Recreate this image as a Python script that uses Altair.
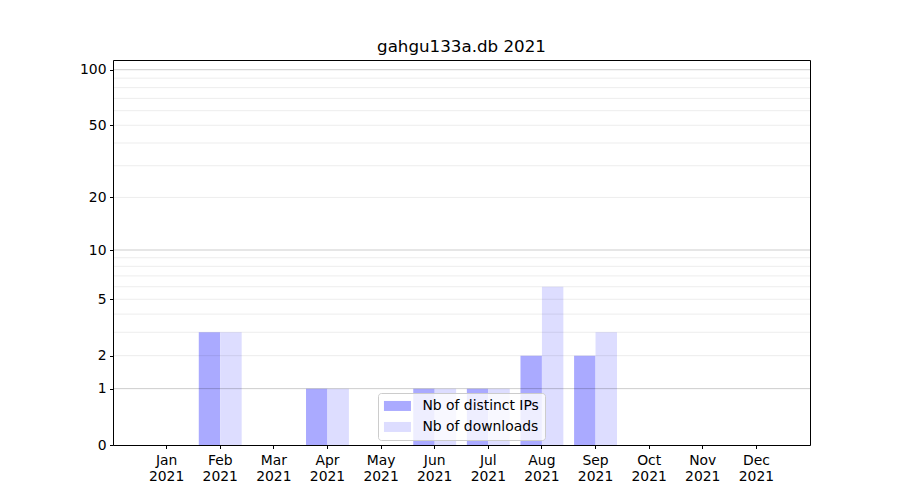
import altair as alt
import pandas as pd

months = ["Jan", "Feb", "Mar", "Apr", "May", "Jun", "Jul", "Aug", "Sep", "Oct", "Nov", "Dec"]
ips = [0, 3, 0, 1, 0, 1, 1, 2, 2, 0, 0, 0]
downloads = [0, 3, 0, 1, 0, 1, 1, 6, 3, 0, 0, 0]
series = ["Nb of distinct IPs", "Nb of downloads"]
y_ticks = [0, 1, 2, 5, 10, 20, 50, 100]
major_grid = [1, 10, 100]
minor_grid = [2, 3, 4, 5, 6, 7, 8, 9, 20, 30, 40, 50, 60, 70, 80, 90]

rows = []
for m, a, b in zip(months, ips, downloads):
    rows.append({"month": m, "series": series[0], "value": a})
    rows.append({"month": m, "series": series[1], "value": b})
df = pd.DataFrame(rows)

FONT = "DejaVu Sans"
yscale = alt.Scale(type="symlog", constant=1, domain=[0, 112.8], nice=False, zero=True)
xscale = alt.Scale(paddingInner=0.2, paddingOuter=0.6)
oscale = alt.Scale(paddingInner=0, paddingOuter=0)

bars = alt.Chart(df).mark_bar().encode(
    x=alt.X("month:N", sort=months, title=None, scale=xscale,
            axis=alt.Axis(labelExpr="[datum.value, '2021']", labelAngle=0,
                          labelFont=FONT, labelFontSize=13.9, labelColor="black",
                          labelLineHeight=15.5, tickColor="black", tickSize=3.5,
                          domainColor="black", labelPadding=5, grid=False)),
    xOffset=alt.XOffset("series:N", sort=series, scale=oscale),
    y=alt.Y("value:Q", scale=yscale, title=None,
            axis=alt.Axis(values=y_ticks, labelFont=FONT, labelFontSize=13.9,
                          labelColor="black", tickColor="black", tickSize=3.5,
                          domainColor="black", labelPadding=3.5, grid=False,
                          format="d")),
    color=alt.Color("series:N", sort=series,
                    scale=alt.Scale(domain=series, range=["#aaaaff", "#ddddff"]),
                    legend=alt.Legend(orient="none", legendX=265, legendY=333, title=None,
                                      symbolType="M-2.7,-1H2.7V1H-2.7Z", symbolSize=100,
                                      symbolOffset=6.5, symbolStrokeWidth=0, symbolOpacity=1,
                                      labelFont=FONT, labelFontSize=13.9, labelColor="black",
                                      labelOffset=18, padding=6, rowPadding=6,
                                      fillColor="rgba(255,255,255,0.8)",
                                      strokeColor="#cccccc", cornerRadius=3)),
)

# invisible layer carrying the top and right spines
frame = alt.Chart(df).mark_bar(opacity=0).encode(
    x=alt.X("month:N", sort=months, title=None, scale=xscale,
            axis=alt.Axis(orient="top", labels=False, ticks=False, grid=False,
                          domainColor="black")),
    xOffset=alt.XOffset("series:N", sort=series, scale=oscale),
    y=alt.Y("value:Q", scale=yscale, title=None,
            axis=alt.Axis(orient="right", labels=False, ticks=False, grid=False,
                          domainColor="black")),
)

minor = alt.Chart(pd.DataFrame({"v": minor_grid})).mark_rule(
    color="black", opacity=0.075, strokeWidth=1
).encode(y=alt.Y("v:Q", scale=yscale, axis=None))

major = alt.Chart(pd.DataFrame({"v": major_grid})).mark_rule(
    color="black", opacity=0.2, strokeWidth=1
).encode(y=alt.Y("v:Q", scale=yscale, axis=None))

chart = alt.layer(bars, minor, major, frame).resolve_axis(
    x="independent", y="independent"
).properties(
    width=697, height=385,
    title=alt.Title("gahgu133a.db 2021", font=FONT, fontSize=16.7, fontWeight="normal",
                    color="black", offset=4),
    autosize=alt.AutoSizeParams(type="none"),
    padding={"left": 105, "top": 52, "right": 82, "bottom": 47},
).configure_view(stroke=None).configure(background="white")

chart.save("out.html", embed_options={"renderer": "svg", "actions": False})
